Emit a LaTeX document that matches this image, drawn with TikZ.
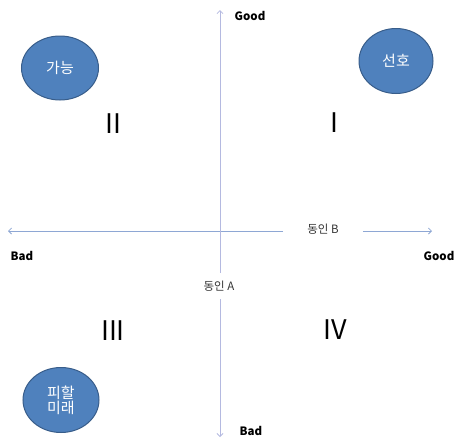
\documentclass[tikz,border=0pt]{standalone}
\usepackage{fontspec}
\setmainfont{Noto Sans CJK KR}
\usetikzlibrary{arrows.meta,shapes.geometric}
\definecolor{ellfill}{HTML}{4F81BD}
\definecolor{elldraw}{HTML}{385D8A}
\definecolor{axisH}{HTML}{8EA7D4}
\definecolor{axisV}{HTML}{B4B9E0}
\tikzset{
  blob/.style={ellipse, fill=ellfill, draw=elldraw, line width=1pt, text=white, font=\fontsize{15}{17}\selectfont, align=center, inner sep=0pt},
  endlabel/.style={font=\bfseries\fontsize{11.5}{13}\selectfont, inner sep=1pt},
  roman/.style={font=\fontsize{27}{30}\selectfont, inner sep=0pt},
  axislabel/.style={font=\fontsize{11.5}{13}\selectfont, text=black!80},
  tip/.style={-{Straight Barb[length=3pt,width=6pt]}}
}
\begin{document}
\begin{tikzpicture}[x=1pt,y=-1pt]
\useasboundingbox (0,0) rectangle (456,440);
% axes
\coordinate (L) at (8,231);
\coordinate (R) at (432,231);
\coordinate (T) at (220,10);
\coordinate (Bt) at (220,437);
\node[axislabel, inner xsep=24pt, inner ysep=2pt] (nB) at (323,229) {동인 B};
\node[axislabel, inner xsep=1pt, inner ysep=8pt] (nA) at (219,286) {동인 A};
\draw[axisH, line width=0.8pt, tip] (nB.west |- L) -- (L);
\draw[axisH, line width=0.8pt, tip] (nB.east |- R) -- (R);
\draw[axisV, line width=0.8pt, tip] (T |- nA.north) -- (T);
\draw[axisV, line width=0.8pt, tip] (Bt |- nA.south) -- (Bt);
% end labels
\node[endlabel] (gt) at (250,16) {Good};
\node[endlabel] (bl) at (22,256) {Bad};
\node[endlabel] (gr) at (439,256) {Good};
\node[endlabel] (bb) at (251,431) {Bad};
% ellipses
\node[blob, minimum width=77pt, minimum height=64pt] (e1) at (60,68) {가능};
\node[blob, minimum width=74pt, minimum height=65pt] (e2) at (396,61) {선호};
\node[blob, minimum width=76pt, minimum height=65pt] (e3) at (61,400) {피할\\[-2pt]미래};
% quadrant numerals
\node[roman] (q2) at (113,124) {II};
\node[roman] (q1) at (334,123) {I};
\node[roman] (q3) at (113,331) {III};
\node[roman] (q4) at (335,330) {IV};
\end{tikzpicture}
\end{document}
